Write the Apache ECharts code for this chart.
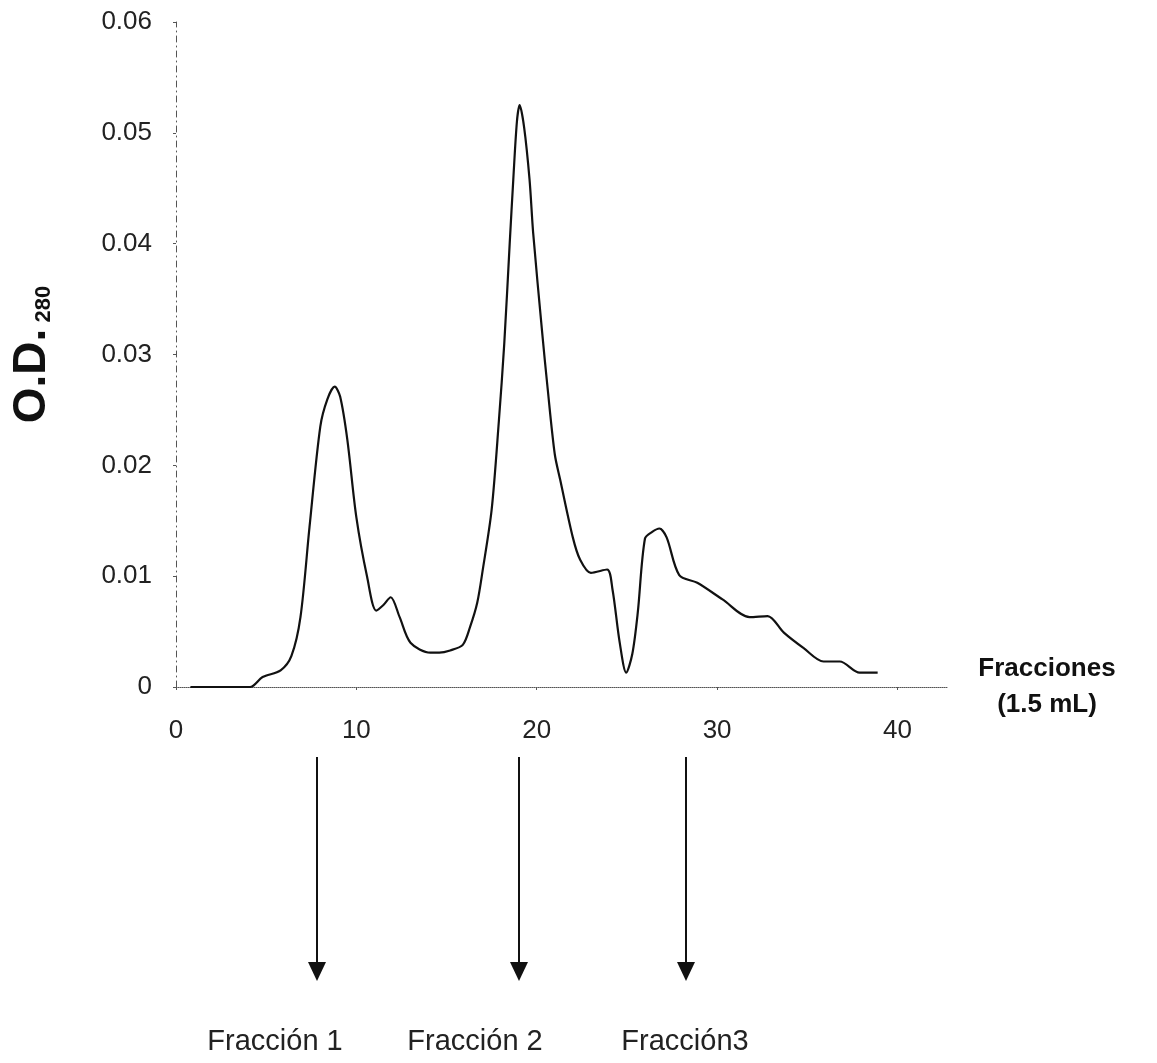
<!DOCTYPE html>
<html>
<head>
<meta charset="utf-8">
<script src="https://cdn.jsdelivr.net/npm/echarts@6/dist/echarts.min.js"></script>
<style>
  html, body { margin: 0; padding: 0; background: #fff; }
  #chart { width: 1157px; height: 1063px; }
</style>
</head>
<body>
<div id="chart"></div>
<script>
// curva de absorbancia (fraccion, O.D. 280)
var fraccion = [0.8, 2, 3, 4.1, 4.8, 5.8, 6.4, 6.9, 7.4, 8.0, 8.4, 8.8, 9.1, 9.5, 10.0, 10.6, 11.1, 11.5, 11.9, 12.4,
	13.0, 14.1, 14.6, 15.2, 15.9, 16.3, 16.7, 17.0, 17.5, 17.9, 18.2, 18.5, 18.7, 18.9, 19.05, 19.3, 19.6, 19.8,
	20.3, 20.6, 21.0, 21.3, 22.0, 22.4, 23.0, 23.9, 24.2, 24.6, 24.96, 25.3, 25.6, 26.0, 26.4, 26.8, 27.2, 27.9,
	28.9, 30.3, 31.8, 32.8, 33.7, 34.8, 35.9, 36.8, 37.9, 38.9];
var absorbancia = [0, 0, 0, 0, 0.0009, 0.0015, 0.0028, 0.0063, 0.0144, 0.0235, 0.026, 0.0271, 0.0262, 0.0223, 0.0153,
	0.0099, 0.0069, 0.0074, 0.0081, 0.0063, 0.004, 0.0031, 0.0031, 0.0033, 0.0038, 0.0054, 0.0076, 0.0105, 0.016,
	0.024, 0.031, 0.040, 0.0458, 0.051, 0.0525, 0.0505, 0.0458, 0.041, 0.032, 0.027, 0.021, 0.0187, 0.0135, 0.0115,
	0.0103, 0.0106, 0.0088, 0.004, 0.0013, 0.003, 0.0067, 0.0134, 0.014, 0.0143, 0.0135, 0.0101, 0.0094, 0.0079,
	0.0063, 0.0064, 0.0049, 0.0035, 0.0023, 0.0023, 0.0013, 0.0013];
var xTicks = [0, 10, 20, 30, 40];
var fraccionFlechas = [7.8, 19.0, 28.3];
var fraccionNombres = ['Fracción 1', 'Fracción 2', 'Fracción3'];

var serie = [];
for (var i = 0; i < fraccion.length; i++) {
	serie.push([fraccion[i], absorbancia[i]]);
}

var fuente = 'Liberation Sans, Arial, sans-serif';
var myChart = echarts.init(document.getElementById('chart'));
var option = {
	animation: false,
	backgroundColor: '#fff',
	textStyle: { fontFamily: fuente },
	grid: { left: 176, right: 209, top: 22, bottom: 376, outerBoundsMode: 'none', containLabel: false },
	xAxis: {
		type: 'value',
		min: 0,
		max: 42.8,
		interval: 10,
		name: 'Fracciones\n(1.5 mL)',
		nameLocation: 'end',
		nameGap: 99,
		nameTextStyle: { fontSize: 26, fontWeight: 'bold', color: '#111', align: 'center', verticalAlign: 'middle', lineHeight: 36 },
		axisLine: { lineStyle: { color: '#555', type: 'dotted', width: 1 } },
		axisTick: { show: true, inside: false, length: 3, lineStyle: { color: '#555' } },
		axisLabel: {
			fontSize: 26, color: '#222', margin: 31, showMaxLabel: false,
			formatter: function(v) { return xTicks.indexOf(v) >= 0 ? String(v) : ''; }
		},
		splitLine: { show: false }
	},
	yAxis: {
		type: 'value',
		min: 0,
		max: 0.06,
		interval: 0.01,
		name: '{a|O.D.}{b| 280}',
		nameLocation: 'middle',
		nameRotate: 90,
		nameGap: 121,
		nameTextStyle: {
			rich: {
				a: { fontSize: 46, fontWeight: 'bold', color: '#111', verticalAlign: 'bottom' },
				b: { fontSize: 22, fontWeight: 'bold', color: '#111', verticalAlign: 'bottom' }
			}
		},
		axisLine: { show: true, lineStyle: { color: '#555', type: [6, 4, 1, 4], width: 1 } },
		axisTick: { show: true, length: 3, lineStyle: { color: '#555' } },
		axisLabel: { fontSize: 26, color: '#222', margin: 24 },
		splitLine: { show: false }
	},
	series: [{
		type: 'line',
		data: serie,
		smooth: 0.3,
		showSymbol: false,
		lineStyle: { color: '#111', width: 2.2 }
	}]
};
myChart.setOption(option);

// flechas bajo el eje
var graficos = [];
for (var j = 0; j < fraccionFlechas.length; j++) {
	var px = Math.round(myChart.convertToPixel({ gridIndex: 0 }, [fraccionFlechas[j], 0])[0]);
	graficos.push({
		type: 'line',
		shape: { x1: px, y1: 757, x2: px, y2: 964 },
		style: { stroke: '#111', lineWidth: 2 }
	});
	graficos.push({
		type: 'polygon',
		shape: { points: [[px - 9, 962], [px + 9, 962], [px, 981]] },
		style: { fill: '#111' }
	});
}
var nombreX = [275, 475, 685];
for (var k = 0; k < fraccionNombres.length; k++) {
	graficos.push({
		type: 'text',
		x: nombreX[k],
		y: 1042,
		style: {
			text: fraccionNombres[k],
			fontSize: 29,
			fontFamily: fuente,
			fill: '#222',
			align: 'center',
			verticalAlign: 'middle'
		}
	});
}
myChart.setOption({ graphic: graficos });
</script>
</body>
</html>
